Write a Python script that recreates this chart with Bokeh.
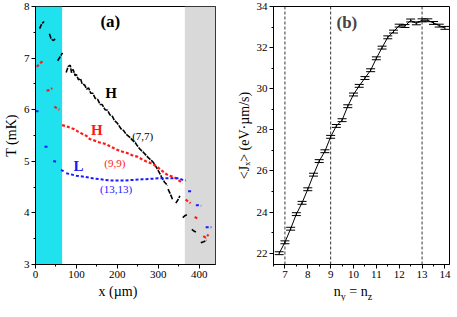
from bokeh.plotting import figure
from bokeh.layouts import row, column
from bokeh.models import (BoxAnnotation, Span, Whisker, TeeHead, ColumnDataSource,
                          Label, Range1d, FixedTicker, Div)
from bokeh.embed import file_html
from bokeh.resources import INLINE

FONT = "Liberation Serif"

# ---------------- Panel (a) data: T (mK) vs x (um) ----------------
black_xs = [
    [10, 15, 21],
    [34, 38, 43, 48],
    [54, 60, 66],
    [75, 80, 85, 88, 92, 97, 100, 105, 110, 114, 120, 125, 130, 135, 140, 146, 152,
     158, 163, 170, 176, 182, 188, 193, 200, 209, 215, 222, 230, 238, 244, 249, 256,
     263, 270, 277, 283, 288, 294, 300, 308, 315, 323],
    [324, 330, 335],
    [343, 348, 353],
    [360, 366, 372],
    [382, 387, 392],
    [404, 411, 418],
]
black_ys = [
    [7.57, 7.66, 7.71],
    [7.47, 7.38, 7.34, 7.37],
    [6.95, 7.02, 7.10],
    [6.72, 6.84, 6.86, 6.72, 6.78, 6.66, 6.68, 6.58, 6.60, 6.50, 6.48, 6.40, 6.42, 6.32,
     6.32, 6.22, 6.20, 6.10, 6.10, 6.00, 5.99, 5.90, 5.87, 5.79, 5.74, 5.63, 5.60, 5.52,
     5.47, 5.40, 5.36, 5.30, 5.23, 5.18, 5.12, 5.06, 5.02, 4.98, 4.90, 4.82, 4.70, 4.60,
     4.53],
    [4.46, 4.36, 4.26],
    [4.19, 4.25, 4.33],
    [3.91, 3.95, 3.97],
    [3.68, 3.65, 3.63],
    [3.42, 3.44, 3.47],
]

red_xs = [
    [3, 11, 19],
    [27, 34, 41],
    [46, 52, 58],
    [65, 75, 85, 95, 105, 115, 125, 133, 145, 155, 165, 173, 185, 195, 204, 215, 224,
     235, 249, 260, 270, 280, 288, 296, 304, 312, 320, 328, 336, 344, 352, 360],
    [367, 373, 379],
    [389, 394, 400],
    [410, 416, 423],
]
red_ys = [
    [6.83, 6.90, 6.95],
    [6.37, 6.38, 6.42],
    [6.06, 6.03, 6.00],
    [5.70, 5.68, 5.65, 5.62, 5.57, 5.53, 5.49, 5.43, 5.40, 5.37, 5.35, 5.33, 5.28, 5.24,
     5.21, 5.18, 5.16, 5.12, 5.09, 5.04, 5.00, 4.97, 4.94, 4.90, 4.85, 4.80, 4.75, 4.72,
     4.70, 4.67, 4.62, 4.58],
    [4.26, 4.22, 4.19],
    [3.92, 3.90, 3.88],
    [3.55, 3.52, 3.58],
]

blue_xs = [
    [0, 4, 8],
    [22, 27, 32],
    [43, 47, 51],
    [62, 66, 70],
    [75, 85, 100, 120, 140, 160, 180, 200, 220, 240, 260, 280, 300, 320, 340, 350, 360, 367],
    [373, 379, 385],
    [392, 398, 405],
    [416, 423, 430],
]
blue_ys = [
    [5.97, 5.97, 5.97],
    [5.28, 5.28, 5.28],
    [5.00, 5.00, 4.99],
    [4.83, 4.82, 4.80],
    [4.77, 4.75, 4.72, 4.70, 4.67, 4.65, 4.63, 4.63, 4.63, 4.64, 4.65, 4.66, 4.67, 4.67,
     4.67, 4.67, 4.64, 4.63],
    [4.42, 4.42, 4.42],
    [4.15, 4.15, 4.14],
    [3.72, 3.72, 3.72],
]

# ---------------- Panel (b) data: <Jx> vs n ----------------
n_vals = [6.75, 7.0, 7.25, 7.5, 7.75, 8.0, 8.25, 8.5, 8.75, 9.0, 9.25, 9.5, 9.75, 10.0,
          10.25, 10.5, 10.75, 11.0, 11.25, 11.5, 11.75, 12.0, 12.25, 12.5, 12.75, 13.0,
          13.25, 13.5, 13.75, 14.0]
J_vals = [22.0, 22.53, 23.19, 23.9, 24.45, 25.11, 25.82, 26.48, 26.96, 27.66, 28.19, 28.47,
          29.15, 29.72, 30.14, 30.52, 30.9, 31.48, 32.0, 32.5, 32.78, 33.07, 33.05, 33.32,
          33.18, 33.33, 33.33, 33.2, 33.07, 32.96]
J_err = [0.07] * len(n_vals)
dashed_n = [7, 9, 13]

FRAME_H = 258
TOP, BOTTOM = 6, 20
DIV_H = 17
L1, FW1, R1 = 28, 180, 18
L2, FW2, R2 = 32, 176, 3


def style(p):
    p.toolbar_location = None
    p.grid.visible = False
    p.outline_line_color = "black"
    p.outline_line_width = 1
    p.background_fill_color = "white"
    p.border_fill_color = "white"
    for ax in (p.xaxis, p.yaxis):
        ax.major_label_text_font = FONT
        ax.major_label_text_font_size = "11px"
        ax.major_label_text_color = "black"
        ax.axis_label_text_font = FONT
        ax.axis_label_text_font_size = "14px"
        ax.axis_label_text_font_style = "normal"
        ax.axis_label_text_color = "black"
        ax.major_tick_out = 4
        ax.major_tick_in = 0
        ax.minor_tick_out = 2
        ax.minor_tick_in = 0
        ax.axis_line_color = "black"
        ax.major_tick_line_color = "black"
        ax.minor_tick_line_color = "black"
        ax.axis_label_standoff = 2
        ax.major_label_standoff = 2


def label_div(html, left, w_frame, width):
    return Div(
        text=f'<div style="width:{w_frame}px;margin-left:{left}px;text-align:center;'
             f'font-family:\'Liberation Serif\',serif;font-size:14px;line-height:15px;'
             f'color:black;white-space:nowrap;">{html}</div>',
        width=width, height=DIV_H, margin=0, styles={"overflow": "hidden"})


# ---------------- Panel (a) ----------------
p1 = figure(frame_width=FW1, frame_height=FRAME_H, output_backend="svg",
            toolbar_location=None, x_range=Range1d(0, 440), y_range=Range1d(3, 8),
            min_border_top=TOP, min_border_right=R1, min_border_left=L1,
            min_border_bottom=BOTTOM)
style(p1)
p1.yaxis.axis_label = "T (mK)"
p1.xaxis.ticker = FixedTicker(ticks=[0, 100, 200, 300, 400], minor_ticks=[50, 150, 250, 350])
p1.yaxis.ticker = FixedTicker(ticks=[3, 4, 5, 6, 7, 8], minor_ticks=[3.5, 4.5, 5.5, 6.5, 7.5])

p1.add_layout(BoxAnnotation(left=0, right=65, fill_color="#20e2ef", fill_alpha=1.0,
                            line_alpha=0, level="underlay"))
p1.add_layout(BoxAnnotation(left=365, right=440, fill_color="#d9d9d9", fill_alpha=1.0,
                            line_alpha=0, level="underlay"))

p1.multi_line(black_xs, black_ys, line_color="black", line_width=1.6, line_dash="5 1")
p1.multi_line(red_xs, red_ys, line_color="#ff1a1a", line_width=2.2, line_dash="3 2")
p1.multi_line(blue_xs, blue_ys, line_color="#1a1aff", line_width=2, line_dash="3 2")

texts_a = [
    ("(a)", 183, 7.70, "black", "bold", "17px"),
    ("H", 185, 6.33, "black", "bold", "15px"),
    ("(7,7)", 262, 5.50, "black", "normal", "11px"),
    ("H", 150, 5.61, "#ff1a1a", "bold", "15px"),
    ("(9,9)", 194, 4.96, "#ff1a1a", "normal", "11px"),
    ("L", 105, 4.90, "#1a1aff", "bold", "15px"),
    ("(13,13)", 197, 4.46, "#1a1aff", "normal", "11px"),
]
for t, x, y, c, st, sz in texts_a:
    p1.add_layout(Label(x=x, y=y, text=t, text_color=c, text_font=FONT,
                        text_font_style=st, text_font_size=sz,
                        text_align="center", text_baseline="middle"))

# ---------------- Panel (b) ----------------
p2 = figure(frame_width=FW2, frame_height=FRAME_H, output_backend="svg",
            toolbar_location=None, x_range=Range1d(6.5, 14.2), y_range=Range1d(21.45, 34),
            min_border_top=TOP, min_border_right=R2, min_border_left=L2,
            min_border_bottom=BOTTOM)
style(p2)
p2.yaxis.axis_label = "<Jₓ> (eV·µm/s)"
p2.xaxis.ticker = FixedTicker(ticks=list(range(7, 15)),
                              minor_ticks=[6.5, 7.5, 8.5, 9.5, 10.5, 11.5, 12.5, 13.5])
p2.yaxis.ticker = FixedTicker(ticks=[22, 24, 26, 28, 30, 32, 34],
                              minor_ticks=[23, 25, 27, 29, 31, 33])

for n in dashed_n:
    p2.add_layout(Span(location=n, dimension="height", line_color="black",
                       line_width=0.8, line_dash="3 2"))

src = ColumnDataSource(dict(n=n_vals, J=J_vals,
                            lo=[j - e for j, e in zip(J_vals, J_err)],
                            hi=[j + e for j, e in zip(J_vals, J_err)]))
p2.line("n", "J", source=src, line_color="black", line_width=1)
p2.add_layout(Whisker(source=src, base="n", lower="lo", upper="hi", dimension="height",
                      line_color="black", line_width=1,
                      lower_head=TeeHead(size=9, line_color="black", line_width=1),
                      upper_head=TeeHead(size=9, line_color="black", line_width=1)))

p2.add_layout(Label(x=9.71, y=33.23, text="(b)", text_font=FONT, text_font_style="bold",
                    text_font_size="17px", text_align="center", text_baseline="middle"))

xlabel_a = label_div("x (µm)", L1, FW1, L1 + FW1 + R1)
xlabel_b = label_div('n<sub style="font-size:10px;line-height:0;">y</sub> = '
                     'n<sub style="font-size:10px;line-height:0;">z</sub>',
                     L2, FW2, L2 + FW2 + R2)

layout = row(column(p1, xlabel_a, spacing=0), column(p2, xlabel_b, spacing=0), spacing=0)
open("out.html", "w").write(file_html(layout, INLINE))
